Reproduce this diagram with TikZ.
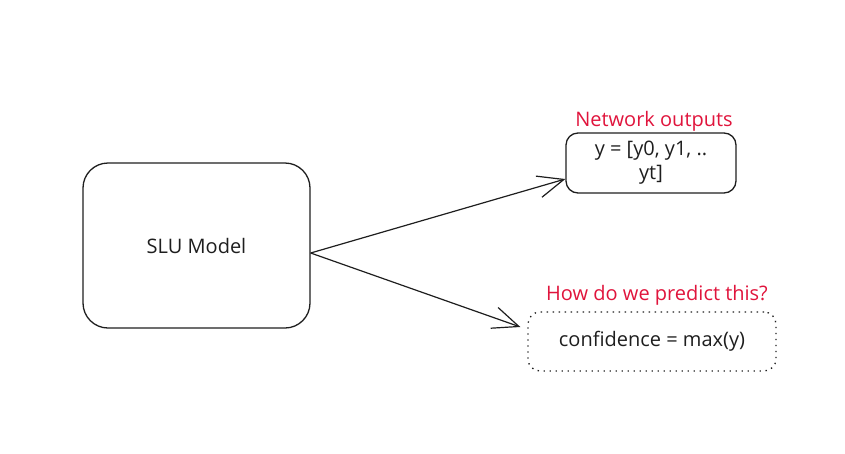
\documentclass[tikz,border=0pt]{standalone}
\usepackage{fontspec}
\setmainfont{Open Sans}
\usetikzlibrary{arrows.meta}
\definecolor{ink}{HTML}{1E1E1E}
\definecolor{note}{HTML}{E0143C}
\begin{document}
\begin{tikzpicture}[
        x=1pt, y=-1pt,
        box/.style={draw=ink, line width=1.3pt, rounded corners=12pt, font=\fontsize{20}{24}\selectfont, text=ink},
        lbl/.style={text=note, font=\fontsize{20}{22}\selectfont},
        >={Straight Barb[length=26pt, width=22pt, line width=1.2pt]}
    ]
        \useasboundingbox (0,0) rectangle (845,453);
        % Model and its two outputs
        \node[box, rounded corners=25pt, minimum width=227pt, minimum height=165pt] (model) at (196.5,245.5) {SLU Model};
        \node[box, minimum width=170pt, minimum height=60pt, align=center] (out) at (651,163) {y = [y0, y1, ..\\yt]};
        \node[box, dash pattern=on 1.4pt off 4.6pt, minimum width=248pt, minimum height=59pt] (conf) at (652,341.5) {confidence = max(y)};

        % Notes above the boxes
        \node[lbl] (outlbl) at (654,121) {Network outputs};
        \node[lbl] (conflbl) at (657,295) {How do we predict this?};

        % Arrows
        \draw[->, ink, line width=1.2pt] ([yshift=-7.5pt]model.east) -- ([yshift=-16pt]out.west);
        \draw[->, ink, line width=1.2pt] ([yshift=-7.5pt]model.east) -- ([xshift=-7pt, yshift=14.5pt]conf.west);
    \end{tikzpicture}
\end{document}
